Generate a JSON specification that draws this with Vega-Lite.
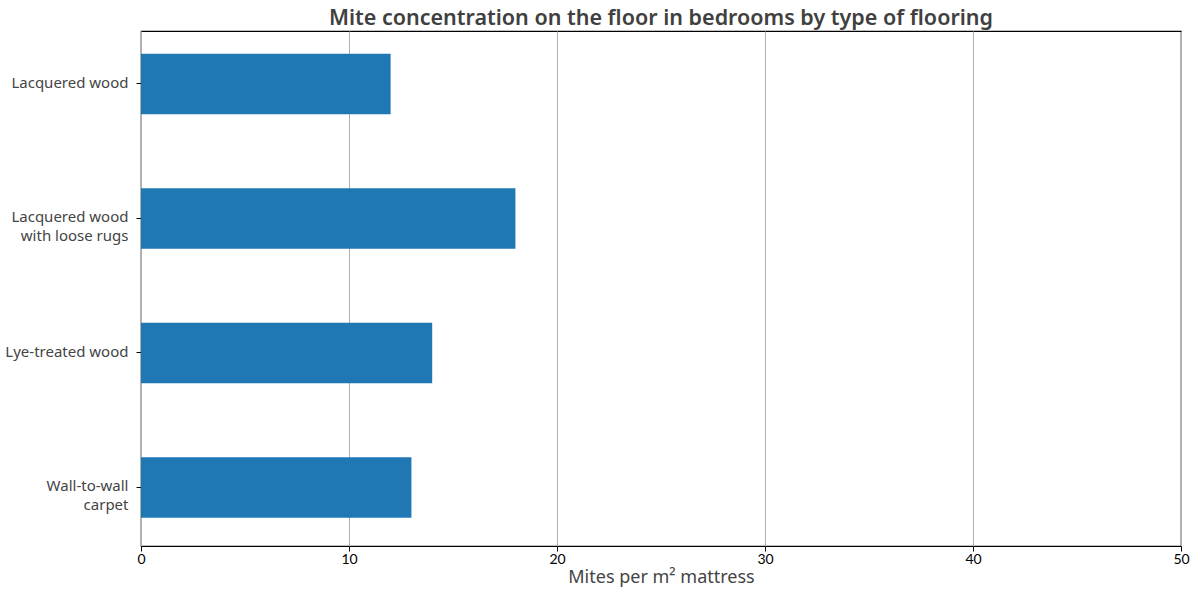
{
  "$schema": "https://vega.github.io/schema/vega-lite/v6.json",
  "description": "Mite concentration on the floor in bedrooms by type of flooring",
  "autosize": {"type": "none"},
  "padding": {"left": 141, "top": 31, "right": 19, "bottom": 49},
  "width": 1040,
  "height": 515,
  "background": "white",
  "title": {
    "text": "Mite concentration on the floor in bedrooms by type of flooring",
    "font": "Noto Sans",
    "fontSize": 21.5,
    "fontWeight": 600,
    "color": "#404040",
    "anchor": "middle",
    "offset": 2
  },
  "data": {
    "values": [
      {"flooring": "Lacquered wood", "mites": 12},
      {"flooring": "Lacquered wood with loose rugs", "mites": 18},
      {"flooring": "Lye-treated wood", "mites": 14},
      {"flooring": "Wall-to-wall carpet", "mites": 13}
    ]
  },
  "mark": {"type": "bar", "color": "#1f77b4"},
  "encoding": {
    "y": {
      "field": "flooring",
      "type": "nominal",
      "sort": null,
      "title": null,
      "scale": {"paddingInner": 0.55, "paddingOuter": 0.19, "align": 0.445},
      "axis": {
        "labelExpr": "datum.label == 'Lacquered wood with loose rugs' ? ['Lacquered wood ', 'with loose rugs'] : datum.label == 'Wall-to-wall carpet' ? ['Wall-to-wall ', 'carpet'] : datum.label",
        "labelFont": "Noto Sans",
        "labelFontSize": 15,
        "labelColor": "#444444",
        "labelPadding": 8,
        "labelLineHeight": 19,
        "labelOffset": -1,
        "tickColor": "#000000",
        "tickSize": 5,
        "domain": false,
        "grid": false
      }
    },
    "x": {
      "field": "mites",
      "type": "quantitative",
      "title": "Mites per m² mattress",
      "scale": {"domain": [0, 50], "nice": false},
      "axis": {
        "values": [0, 10, 20, 30, 40, 50],
        "labelFlush": false,
        "labelFont": "Lato",
        "labelFontSize": 14,
        "labelColor": "#000000",
        "labelPadding": 1,
        "titleFont": "Noto Sans",
        "titleFontSize": 18,
        "titleFontWeight": "normal",
        "titleColor": "#444444",
        "titlePadding": 2,
        "tickColor": "#000000",
        "tickSize": 5,
        "domain": false,
        "grid": true,
        "gridColor": "#b0b0b0",
        "gridWidth": 1
      }
    }
  },
  "config": {
    "view": {"stroke": "#000000", "strokeWidth": 1.2}
  }
}
